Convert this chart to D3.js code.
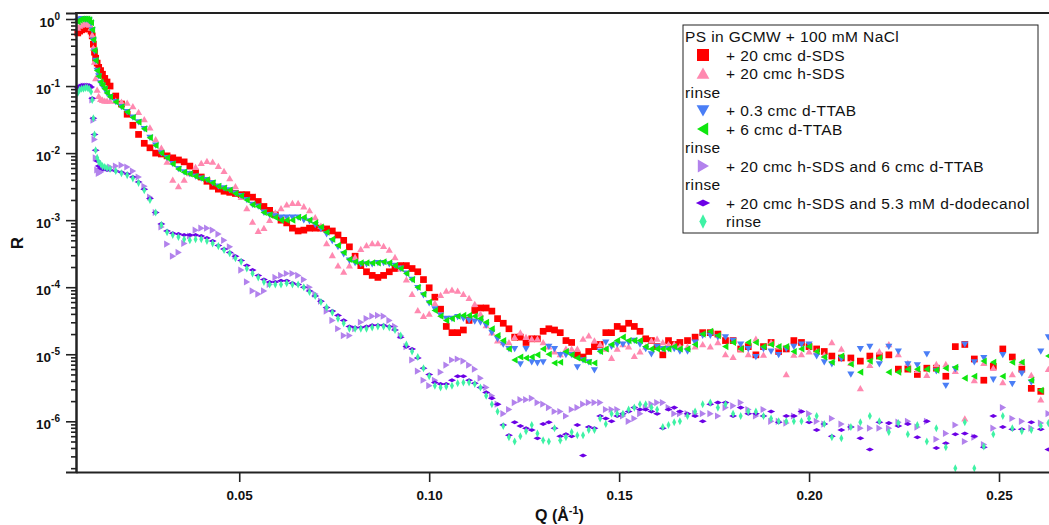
<!DOCTYPE html>
<html>
<head>
<meta charset="utf-8">
<script src="https://cdn.jsdelivr.net/npm/d3@7"></script>
<style>
  body { margin: 0; background: #fff; }
  svg { display: block; font-family: "Liberation Sans", Arial, Helvetica, sans-serif; }
</style>
</head>
<body>
<svg id="chart" width="1049" height="525"></svg>
<script>
// Q values (1/Angstrom), shared by all the reflectivity curves
const q = [
  0.0075, 0.008, 0.0085, 0.009, 0.0095, 0.010, 0.0105, 0.011, 0.0113, 0.0116, 0.0119, 0.0122, 0.0126, 0.013, 0.0135, 0.014, 0.0146, 0.0152,
  0.016, 0.0175, 0.019, 0.0205, 0.022, 0.0235, 0.025, 0.0265, 0.028, 0.0295,
  0.031, 0.0325, 0.034, 0.0355, 0.037, 0.0385, 0.040, 0.0415, 0.043, 0.0445,
  0.046, 0.0475, 0.049, 0.0505, 0.052, 0.0535, 0.055, 0.0565, 0.058, 0.0595,
  0.061, 0.0625, 0.064, 0.0655, 0.067, 0.0685, 0.070, 0.0715, 0.073, 0.0745,
  0.076, 0.0775, 0.079, 0.0805, 0.082, 0.0835, 0.085, 0.0865, 0.088, 0.0895,
  0.091, 0.0925, 0.094, 0.0955, 0.097, 0.0985, 0.100, 0.1015, 0.103, 0.1045,
  0.106, 0.1075, 0.109, 0.1105, 0.112, 0.1135, 0.115, 0.1165, 0.118, 0.1195,
  0.121, 0.1225, 0.124, 0.1255, 0.127, 0.1285, 0.130, 0.1315, 0.133, 0.1345,
  0.136, 0.1375, 0.139, 0.1405, 0.142, 0.1435, 0.145, 0.1465, 0.148, 0.1495,
  0.151, 0.1525, 0.154, 0.1555, 0.157, 0.1585, 0.160, 0.1615, 0.163, 0.1645,
  0.166,
  0.168, 0.170, 0.172, 0.174, 0.176, 0.178, 0.180, 0.182, 0.184, 0.186,
  0.188, 0.190, 0.192, 0.194, 0.196, 0.198, 0.200, 0.202, 0.204, 0.206,
  0.2085, 0.211, 0.2135, 0.216, 0.2185, 0.221, 0.2235, 0.226, 0.2285, 0.231, 0.2335, 0.236,
  0.2385, 0.241, 0.2435, 0.246, 0.2485, 0.251, 0.2535, 0.256, 0.2585, 0.261, 0.263
];

// + 20 cmc d-SDS
const rRed = [
  0.62, 0.66, 0.69, 0.71, 0.74, 0.74, 0.71, 0.66, 0.56, 0.42, 0.32, 0.26, 0.22, 0.19, 0.17, 0.15, 0.13, 0.115,
  0.10, 7.1e-2, 5.4e-2, 3.8e-2, 2.6e-2, 1.9e-2, 1.4e-2, 1.2e-2, 1.0e-2, 9.7e-3,
  9.1e-3, 8.5e-3, 7.9e-3, 7.4e-3, 6.4e-3, 5.2e-3, 4.4e-3, 3.8e-3, 3.2e-3, 2.9e-3,
  2.7e-3, 2.6e-3, 2.5e-3, 2.4e-3, 2.4e-3, 2.2e-3, 1.9e-3, 1.6e-3, 1.4e-3, 1.2e-3,
  1.0e-3, 9.1e-4, 7.6e-4, 6.9e-4, 7.1e-4, 7.6e-4, 7.6e-4, 7.6e-4, 7.4e-4, 6.9e-4,
  6.0e-4, 5.0e-4, 4.0e-4, 2.9e-4, 2.1e-4, 1.7e-4, 1.5e-4, 1.4e-4, 1.5e-4, 1.7e-4,
  1.9e-4, 2.1e-4, 2.1e-4, 1.9e-4, 1.7e-4, 1.3e-4, 9.8e-5, 7.1e-5, 4.7e-5, 2.6e-5,
  2.1e-5, 2.1e-5, 2.3e-5, 3.2e-5, 4.5e-5, 4.9e-5, 4.9e-5, 4.4e-5, 3.4e-5, 2.9e-5,
  2.4e-5, 1.8e-5, 1.8e-5, 1.5e-5, 1.7e-5, 1.7e-5, 2.2e-5, 2.4e-5, 2.3e-5, 2.1e-5,
  1.6e-5, 1.5e-5, 9.8e-6, 9.1e-6, 1.1e-5, 1.3e-5, 1.4e-5, 2.1e-5, 2.1e-5, 2.6e-5,
  2.4e-5, 2.9e-5, 2.6e-5, 2.2e-5, 1.7e-5, 1.6e-5, 1.3e-5, 9.8e-6, 1.6e-5, 1.4e-5,
  1.5e-5,
  1.6e-5, 1.8e-5, 2.1e-5, 2.1e-5, 2.0e-5, 1.6e-5, 1.6e-5, 1.2e-5, 1.3e-5, 9.8e-6,
  1.3e-5, 1.5e-5, 1.1e-5, 1.2e-5, 1.6e-5, 1.5e-5, 1.3e-5, 1.2e-5, 1.1e-5, 9.4e-6,
  8.8e-6, 8.8e-6, 7.9e-6, 9.4e-6, 9.4e-6, 9.8e-6, 6.0e-6, 6.0e-6, 5.0e-6, 6.2e-6, 6.2e-6, 4.7e-6,
  1.3e-5, 1.4e-5, 8.5e-6, 4.1e-6, 6.6e-6, 1.2e-5, 9.1e-6, 6.0e-6, 3.1e-6, 2.8e-6, null
];

// + 20 cmc h-SDS
const rPink = [
  0.74, 0.79, 0.82, 0.85, 0.85, 0.85, 0.82, 0.74, 0.58, 0.37, 0.23, 0.13, 0.088, 0.071, 0.064, 0.062, 0.060, 0.060,
  6.0e-2, 6.0e-2, 5.8e-2, 5.6e-2, 5.0e-2, 4.1e-2, 3.2e-2, 2.4e-2, 1.6e-2, 1.2e-2,
  7.4e-3, 4.0e-3, 3.2e-3, 4.0e-3, 5.0e-3, 6.2e-3, 7.1e-3, 7.6e-3, 7.4e-3, 6.4e-3,
  5.4e-3, 4.2e-3, 3.2e-3, 2.2e-3, 1.5e-3, 9.4e-4, 6.9e-4, 7.6e-4, 1.0e-3, 1.3e-3,
  1.5e-3, 1.7e-3, 1.8e-3, 1.8e-3, 1.6e-3, 1.4e-3, 1.1e-3, 8.2e-4, 4.5e-4, 3.0e-4,
  2.1e-4, 1.7e-4, 2.1e-4, 2.8e-4, 3.7e-4, 4.2e-4, 4.5e-4, 4.5e-4, 4.1e-4, 3.6e-4,
  2.8e-4, 1.9e-4, 1.3e-4, 7.9e-5, 4.5e-5, 3.7e-5, 4.0e-5, 5.8e-5, 7.6e-5, 8.8e-5,
  9.1e-5, 8.8e-5, 7.9e-5, 6.9e-5, 5.6e-5, 4.0e-5, 2.7e-5, 2.1e-5, 1.6e-5, 1.5e-5,
  1.5e-5, 1.8e-5, 2.1e-5, 1.8e-5, 1.7e-5, 1.7e-5, 1.5e-5, 1.3e-5, 1.1e-5, 1.0e-5,
  1.2e-5, 1.2e-5, 1.2e-5, 1.7e-5, 1.9e-5, 1.6e-5, 1.4e-5, 1.2e-5, 8.8e-6, 1.2e-5,
  1.4e-5, 1.3e-5, 9.4e-6, 1.1e-5, 1.3e-5, 1.6e-5, 1.7e-5, 1.5e-5, 1.4e-5, 1.4e-5,
  1.3e-5,
  1.3e-5, 1.3e-5, 1.4e-5, 1.3e-5, 1.5e-5, 1.0e-5, 9.1e-6, 1.2e-5, 1.0e-5, 1.7e-5,
  9.8e-6, 1.5e-5, 1.3e-5, 5.0e-6, 9.8e-6, 1.0e-5, 1.1e-5, 1.1e-5, 9.8e-6, 1.5e-5,
  1.2e-5, 7.4e-6, 3.1e-6, 6.9e-6, 1.1e-5, 1.4e-5, 1.0e-5, 7.4e-6, 5.8e-6, 4.9e-6, 7.1e-6, 7.1e-6,
  5.6e-6, 1.1e-6, 4.1e-6, 7.4e-6, 6.2e-6, 3.8e-6, 5.0e-6, 7.6e-6, 4.9e-6, 2.1e-6, 6.0e-6
];

// + 0.3 cmc d-TTAB
const rBlue = [
  0.93, 0.98, 1.0, 1.0, 0.98, 0.98, 0.95, 0.86, 0.68, 0.48, 0.33, 0.24, 0.17, 0.14, 0.11, 0.10, 0.090, 0.078,
  6.9e-2, 5.8e-2, 4.9e-2, 4.1e-2, 3.4e-2, 2.9e-2, 2.3e-2, 1.7e-2, 1.3e-2, 1.0e-2,
  8.5e-3, 6.9e-3, 5.8e-3, 5.2e-3, 4.9e-3, 4.5e-3, 4.2e-3, 4.0e-3, 3.6e-3, 3.2e-3,
  3.0e-3, 2.8e-3, 2.5e-3, 2.3e-3, 2.0e-3, 1.7e-3, 1.6e-3, 1.3e-3, 1.2e-3, 1.15e-3,
  1.1e-3, 1.1e-3, 1.1e-3, 1.1e-3, 1.0e-3, 9.7e-4, 8.5e-4, 7.4e-4, 6.2e-4, 4.9e-4,
  4.0e-4, 3.1e-4, 2.5e-4, 2.3e-4, 2.2e-4, 2.2e-4, 2.2e-4, 2.3e-4, 2.3e-4, 2.2e-4,
  2.1e-4, 1.9e-4, 1.6e-4, 1.3e-4, 9.8e-5, 7.6e-5, 5.8e-5, 4.7e-5, 3.8e-5, 3.4e-5,
  3.4e-5, 3.6e-5, 3.4e-5, 3.2e-5, 3.1e-5, 3.0e-5, 2.7e-5, 2.1e-5, 1.7e-5, 1.4e-5,
  1.2e-5, 1.2e-5, 7.1e-6, 1.2e-5, 7.6e-6, 7.4e-6, 7.6e-6, 1.3e-5, 1.2e-5, 9.8e-6,
  9.8e-6, 9.8e-6, 6.4e-6, 8.2e-6, 7.6e-6, 5.8e-6, 1.1e-5, 1.5e-5, 1.3e-5, 1.4e-5,
  1.4e-5, 1.5e-5, 1.6e-5, 1.4e-5, 1.2e-5, 1.0e-5, 1.3e-5, 1.2e-5, 1.2e-5, 1.2e-5,
  1.1e-5,
  1.1e-5, 1.5e-5, 1.9e-5, 1.9e-5, 1.8e-5, 1.8e-5, 1.6e-5, 1.4e-5, 1.2e-5, 9.1e-6,
  1.2e-5, 1.1e-5, 9.8e-6, 1.2e-5, 1.3e-5, 1.4e-5, 1.4e-5, 9.4e-6, 7.6e-6, 7.1e-6,
  8.5e-6, 5.0e-6, 1.2e-5, 1.3e-5, 7.1e-6, 1.3e-5, 1.1e-5, 7.1e-6, 6.9e-6, 1.0e-5, 5.6e-6, 3.4e-6,
  6.0e-6, 1.4e-5, 7.6e-6, 8.8e-6, 4.2e-6, 9.8e-6, 3.6e-6, 5.2e-6, 3.8e-6, 1.1e-5, 1.8e-5
];

// + 6 cmc d-TTAB
const rGreen = [
  0.91, 0.97, 1.0, 1.0, 1.0, 1.0, 0.97, 0.88, 0.69, 0.49, 0.34, 0.24, 0.17, 0.14, 0.115, 0.103, 0.091, 0.079,
  6.9e-2, 5.8e-2, 4.9e-2, 4.1e-2, 3.4e-2, 2.9e-2, 2.3e-2, 1.7e-2, 1.3e-2, 1.0e-2,
  8.5e-3, 6.9e-3, 5.8e-3, 5.2e-3, 4.9e-3, 4.5e-3, 4.2e-3, 4.0e-3, 3.6e-3, 3.2e-3,
  3.0e-3, 2.8e-3, 2.5e-3, 2.3e-3, 2.0e-3, 1.7e-3, 1.6e-3, 1.3e-3, 1.2e-3, 1.1e-3,
  1.0e-3, 1.0e-3, 1.0e-3, 1.1e-3, 1.1e-3, 1.0e-3, 9.1e-4, 7.9e-4, 6.6e-4, 5.2e-4,
  4.2e-4, 3.3e-4, 2.6e-4, 2.4e-4, 2.3e-4, 2.3e-4, 2.3e-4, 2.3e-4, 2.4e-4, 2.3e-4,
  2.1e-4, 1.9e-4, 1.6e-4, 1.3e-4, 1.0e-4, 7.9e-5, 6.0e-5, 4.5e-5, 3.7e-5, 3.2e-5,
  3.4e-5, 3.7e-5, 3.8e-5, 3.8e-5, 3.7e-5, 3.4e-5, 3.0e-5, 2.4e-5, 1.9e-5, 1.6e-5,
  1.2e-5, 8.2e-6, 9.1e-6, 8.8e-6, 9.1e-6, 9.8e-6, 1.2e-5, 1.0e-5, 7.4e-6, 7.6e-6,
  1.1e-5, 9.8e-6, 8.8e-6, 8.2e-6, 7.6e-6, 7.4e-6, 1.1e-5, 1.2e-5, 1.4e-5, 1.6e-5,
  1.8e-5, 1.6e-5, 1.6e-5, 1.6e-5, 1.3e-5, 1.2e-5, 1.2e-5, 1.2e-5, 1.2e-5, 1.3e-5,
  1.2e-5,
  1.2e-5, 1.4e-5, 2.0e-5, 2.2e-5, 1.9e-5, 1.3e-5, 1.5e-5, 1.2e-5, 1.5e-5, 1.5e-5,
  1.3e-5, 1.4e-5, 1.3e-5, 1.3e-5, 1.1e-5, 1.2e-5, 1.3e-5, 1.1e-5, 9.1e-6, 7.6e-6,
  9.4e-6, 7.1e-6, 5.4e-6, 7.9e-6, 8.8e-6, 5.4e-6, 5.4e-6, 6.0e-6, 6.0e-6, 6.0e-6, 5.8e-6, 6.2e-6,
  6.4e-6, 4.4e-6, 4.7e-6, 7.9e-6, 7.6e-6, 4.7e-6, 7.6e-6, 7.6e-6, 4.1e-6, 2.9e-6, 9.4e-6
];

// + 20 cmc h-SDS and 6 cmc d-TTAB
const rLavender = [
  0.088, 0.094, 0.097, 0.10, 0.10, 0.10, 0.10, 0.094, 0.062, 0.031, 0.016, 8.5e-3, 5.6e-3, 5.0e-3, 5.2e-3, 5.6e-3, 5.8e-3, 6.0e-3,
  6.2e-3, 6.4e-3, 6.6e-3, 6.2e-3, 5.4e-3, 4.4e-3, 3.2e-3, 2.2e-3, 1.3e-3, 7.9e-4,
  4.4e-4, 2.9e-4, 3.3e-4, 4.5e-4, 5.8e-4, 7.1e-4, 7.6e-4, 7.6e-4, 7.1e-4, 6.2e-4,
  5.0e-4, 4.0e-4, 2.9e-4, 1.8e-4, 1.2e-4, 8.8e-5, 7.9e-5, 8.8e-5, 1.1e-4, 1.4e-4,
  1.5e-4, 1.6e-4, 1.6e-4, 1.5e-4, 1.3e-4, 1.0e-4, 7.9e-5, 6.2e-5, 4.4e-5, 3.2e-5,
  2.4e-5, 1.9e-5, 1.9e-5, 2.4e-5, 3.0e-5, 3.4e-5, 3.7e-5, 3.8e-5, 3.7e-5, 3.2e-5,
  2.6e-5, 1.9e-5, 1.3e-5, 8.2e-6, 5.6e-6, 4.1e-6, 3.4e-6, 4.1e-6, 5.4e-6, 6.9e-6,
  8.2e-6, 8.5e-6, 7.9e-6, 6.9e-6, 6.0e-6, 4.4e-6, 3.2e-6, 2.4e-6, 1.8e-6, 1.3e-6,
  1.5e-6, 1.9e-6, 2.1e-6, 2.1e-6, 2.2e-6, 1.9e-6, 1.8e-6, 1.6e-6, 1.4e-6, 1.4e-6,
  1.2e-6, 1.5e-6, 1.6e-6, 1.8e-6, 1.9e-6, 1.9e-6, 1.9e-6, 1.5e-6, 1.5e-6, 1.5e-6,
  1.2e-6, 1.0e-6, 1.1e-6, 1.3e-6, 1.6e-6, 1.8e-6, 1.9e-6, 1.9e-6, 1.6e-6, 1.3e-6,
  1.3e-6,
  1.3e-6, 1.3e-6, 1.3e-6, 1.3e-6, 1.2e-6, 1.6e-6, 1.7e-6, 1.9e-6, 1.5e-6, 1.2e-6,
  1.5e-6, 1.0e-6, 1.0e-6, 9.4e-7, 1.2e-6, 1.4e-6, 1.3e-6, 1.0e-6, 9.1e-7, 1.1e-6,
  9.1e-7, 8.2e-7, 7.9e-7, 7.9e-7, 7.9e-7, 7.9e-7, 9.7e-7, 1.0e-6, 8.2e-7, 1.0e-6, 5.4e-7, 6.6e-7,
  8.8e-7, 5.0e-7, 5.8e-7, 4.5e-7, 7.9e-7, 1.6e-6, 1.1e-6, 1.0e-6, 7.9e-7, 9.4e-7, 1.3e-6
];

// + 20 cmc h-SDS and 5.3 mM d-dodecanol
const rPurple = [
  0.094, 0.10, 0.103, 0.103, 0.103, 0.103, 0.103, 0.097, 0.066, 0.033, 0.019, 0.011, 7.6e-3, 6.4e-3, 6.0e-3, 5.8e-3, 5.8e-3, 5.6e-3,
  5.6e-3, 5.4e-3, 5.2e-3, 4.9e-3, 4.4e-3, 3.7e-3, 2.9e-3, 2.1e-3, 1.3e-3, 8.8e-4,
  6.9e-4, 6.4e-4, 6.2e-4, 6.0e-4, 6.0e-4, 6.0e-4, 5.8e-4, 5.4e-4, 4.9e-4, 4.2e-4,
  3.7e-4, 3.3e-4, 2.9e-4, 2.5e-4, 2.1e-4, 1.8e-4, 1.5e-4, 1.3e-4, 1.2e-4, 1.2e-4,
  1.25e-4, 1.25e-4, 1.15e-4, 1.1e-4, 1.0e-4, 8.8e-5, 7.4e-5, 6.2e-5, 5.0e-5, 4.4e-5,
  3.8e-5, 3.2e-5, 2.6e-5, 2.5e-5, 2.5e-5, 2.6e-5, 2.7e-5, 2.7e-5, 2.7e-5, 2.6e-5,
  2.3e-5, 1.8e-5, 1.3e-5, 1.2e-5, 8.8e-6, 6.2e-6, 5.0e-6, 3.8e-6, 3.6e-6, 3.6e-6,
  4.1e-6, 4.7e-6, 4.7e-6, 4.1e-6, 3.7e-6, 3.2e-6, 2.7e-6, 2.2e-6, 1.8e-6, 8.8e-7,
  6.2e-7, 9.7e-7, 8.5e-7, 7.9e-7, 7.4e-7, 5.6e-7, 9.1e-7, 9.7e-7, 7.9e-7, 6.0e-7,
  6.4e-7, 6.0e-7, 8.8e-7, 3.1e-7, 8.2e-7, 7.9e-7, 1.2e-6, 1.1e-6, 1.0e-6, 1.2e-6,
  1.3e-6, 1.4e-6, 1.6e-6, 1.5e-6, 1.5e-6, 1.4e-6, 1.3e-6, 7.9e-7, 1.5e-6, 1.6e-6,
  1.4e-6,
  1.3e-6, 1.2e-6, 1.0e-6, 1.8e-6, 1.9e-6, 1.9e-6, 1.2e-6, 1.6e-6, 1.3e-6, 1.3e-6,
  1.2e-6, 1.4e-6, 9.7e-7, 1.2e-6, 1.2e-6, 1.4e-6, 9.7e-7, 7.4e-7, 9.1e-7, 6.0e-7,
  7.4e-7, 8.2e-7, 5.6e-7, 3.8e-7, 9.7e-7, 9.4e-7, 8.5e-7, 9.1e-7, 5.8e-7, 1.0e-6, 4.0e-7, 4.7e-7,
  6.4e-7, 6.6e-7, 6.0e-7, 4.1e-7, 1.2e-6, 8.2e-7, 7.6e-7, 7.6e-7, 9.7e-7, 7.6e-7, 3.8e-7
];

// rinse (last)
const rRinse = [
  0.079, 0.088, 0.091, 0.091, 0.094, 0.094, 0.091, 0.082, 0.062, 0.033, 0.019, 0.011, 8.5e-3, 7.4e-3, 6.9e-3, 6.4e-3, 6.2e-3, 6.0e-3,
  5.8e-3, 5.4e-3, 5.0e-3, 4.7e-3, 4.2e-3, 3.6e-3, 2.8e-3, 2.0e-3, 1.3e-3, 8.5e-4,
  6.6e-4, 6.0e-4, 5.6e-4, 5.2e-4, 5.0e-4, 5.2e-4, 5.2e-4, 4.9e-4, 4.5e-4, 4.1e-4,
  3.6e-4, 3.2e-4, 2.7e-4, 2.4e-4, 1.9e-4, 1.6e-4, 1.4e-4, 1.2e-4, 1.1e-4, 1.1e-4,
  1.1e-4, 1.15e-4, 1.1e-4, 1.1e-4, 1.0e-4, 8.5e-5, 7.4e-5, 6.0e-5, 5.0e-5, 4.2e-5,
  3.4e-5, 2.9e-5, 2.4e-5, 2.4e-5, 2.4e-5, 2.4e-5, 2.5e-5, 2.6e-5, 2.6e-5, 2.5e-5,
  2.3e-5, 1.9e-5, 1.4e-5, 1.1e-5, 9.1e-6, 6.2e-6, 4.7e-6, 3.4e-6, 3.2e-6, 3.3e-6,
  3.4e-6, 3.7e-6, 3.8e-6, 3.8e-6, 3.6e-6, 3.2e-6, 2.4e-6, 1.8e-6, 1.4e-6, 8.5e-7,
  5.8e-7, 5.0e-7, 6.0e-7, 7.1e-7, 8.8e-7, 6.6e-7, 5.2e-7, 5.0e-7, 7.9e-7, 5.2e-7,
  5.8e-7, 6.9e-7, 6.2e-7, 6.2e-7, 7.4e-7, 7.4e-7, 1.1e-6, 9.1e-7, 1.3e-6, 1.3e-6,
  1.3e-6, 1.5e-6, 1.6e-6, 1.8e-6, 1.8e-6, 1.6e-6, 1.5e-6, 8.2e-7, 8.8e-7, 9.7e-7,
  1.0e-6,
  1.2e-6, 1.4e-6, 1.8e-6, 1.9e-6, 1.6e-6, 1.8e-6, 1.3e-6, 1.2e-6, 1.4e-6, 1.4e-6,
  1.2e-6, 1.1e-6, 1.0e-6, 1.0e-6, 1.0e-6, 1.0e-6, 1.1e-6, 1.2e-6, 9.1e-7, 5.8e-7,
  5.6e-7, 8.2e-7, 9.7e-7, 1.2e-6, 1.0e-6, 6.9e-7, 9.4e-7, 6.4e-7, 8.8e-7, 5.0e-7, 7.9e-7, 4.1e-7,
  2.0e-7, 9.7e-7, 2.0e-7, 4.2e-7, 6.4e-7, 1.2e-6, 7.9e-7, 7.1e-7, 7.4e-7, 8.5e-7, 9.4e-7
];

const seriesNames = [
  '+ 20 cmc d-SDS', '+ 20 cmc h-SDS', '+ 0.3 cmc d-TTAB', '+ 6 cmc d-TTAB',
  '+ 20 cmc h-SDS and 6 cmc d-TTAB', '+ 20 cmc h-SDS and 5.3 mM d-dodecanol', 'rinse'
];
const legendTitle = 'PS in GCMW + 100 mM NaCl';
// legend rows: a number points at a series, a string is a plain text line
const legendRows = [0, 1, 'rinse', 2, 3, 'rinse', 4, 'rinse', 5, 6];

const qTicks = [0.05, 0.10, 0.15, 0.20, 0.25];
const rDecades = [1, 1e-1, 1e-2, 1e-3, 1e-4, 1e-5, 1e-6];
const decadeExp = [0, -1, -2, -3, -4, -5, -6];

const series = [
  {values: rRed, color: '#ff0000', shape: 'square'},
  {values: rPink, color: '#ff89b0', shape: 'up'},
  {values: rBlue, color: '#4a7ef6', shape: 'down'},
  {values: rGreen, color: '#0fe60f', shape: 'left'},
  {values: rLavender, color: '#b282ec', shape: 'right'},
  {values: rPurple, color: '#6c00e6', shape: 'hdiamond'},
  {values: rRinse, color: '#3ff2a5', shape: 'vdiamond'}
];

// marker outlines, s is a scale factor
function markerPath(shape, s) {
  switch (shape) {
    case 'square': return `M${-3*s},${-3*s}h${6*s}v${6*s}h${-6*s}Z`;
    case 'up': return `M0,${-3*s}L${3.2*s},${2.6*s}L${-3.2*s},${2.6*s}Z`;
    case 'down': return `M0,${3*s}L${3.2*s},${-2.6*s}L${-3.2*s},${-2.6*s}Z`;
    case 'left': return `M${-3*s},0L${2.6*s},${-3.2*s}L${2.6*s},${3.2*s}Z`;
    case 'right': return `M${3*s},0L${-2.6*s},${-3.2*s}L${-2.6*s},${3.2*s}Z`;
    case 'hdiamond': return `M${-3.6*s},0L0,${-1.8*s}L${3.6*s},0L0,${1.8*s}Z`;
    case 'vdiamond': return `M0,${-3.6*s}L${1.8*s},0L0,${3.6*s}L${-1.8*s},0Z`;
  }
}

const svg = d3.select('#chart');
const plotLeft = 76, plotRight = 1049, plotTop = 13, plotBottom = 472;

const x = d3.scaleLinear().domain([0.00703, 0.26316]).range([plotLeft, plotRight]);
const y = d3.scaleLog().domain([1.754e-7, 1.229]).range([plotBottom, plotTop]);

// data markers, drawn in legend order so later traces sit on top
const plot = svg.append('g').attr('class', 'data');
series.forEach(s => {
  const n = Math.min(q.length, s.values.length);
  const pts = [];
  for (let i = 0; i < n; i++) {
    if (s.values[i] != null) pts.push([q[i], s.values[i]]);
  }
  plot.append('g')
    .selectAll('path')
    .data(pts)
    .enter()
    .append('path')
    .attr('d', markerPath(s.shape, 1.12))
    .attr('transform', d => `translate(${x(d[0])},${y(d[1])})`)
    .attr('fill', s.color);
});

// y axis (log): major ticks at decades, minor ticks at 2..9
const minorR = [];
for (let e = -7; e <= 0; e++) {
  for (let m = 2; m <= 9; m++) {
    const v = m * Math.pow(10, e);
    if (v >= y.domain()[0] && v <= y.domain()[1]) minorR.push(v);
  }
}
const yMajor = svg.append('g').attr('transform', `translate(${plotLeft},0)`)
  .call(d3.axisLeft(y).tickValues(rDecades).tickSize(10).tickFormat(''));
const yMinor = svg.append('g').attr('transform', `translate(${plotLeft},0)`)
  .call(d3.axisLeft(y).tickValues(minorR).tickSize(5).tickSizeOuter(0).tickFormat(''));
[yMajor, yMinor].forEach(g => {
  g.selectAll('line').attr('stroke', '#222').attr('stroke-width', 1.6);
  g.select('.domain').attr('stroke', '#222').attr('stroke-width', 2);
});

const yLabels = svg.append('g')
  .attr('font-weight', 'bold')
  .attr('fill', '#111');
rDecades.forEach((v, i) => {
  const t = yLabels.append('text')
    .attr('x', 60)
    .attr('y', y(v) + 8)
    .attr('text-anchor', 'end');
  t.append('tspan').attr('font-size', 13.5).text('10');
  t.append('tspan').attr('font-size', 10).attr('dy', -7).text(decadeExp[i]);
});

// x axis
const xAxis = svg.append('g').attr('transform', `translate(0,${plotBottom})`)
  .call(d3.axisBottom(x).tickValues(qTicks).tickSize(10).tickSizeOuter(0).tickPadding(8)
    .tickFormat(d3.format('.2f')));
xAxis.selectAll('line').attr('stroke', '#222').attr('stroke-width', 1.6);
xAxis.select('.domain').attr('stroke', '#222').attr('stroke-width', 2);
xAxis.selectAll('text')
  .attr('font-family', '"Liberation Sans", Arial, sans-serif')
  .attr('font-size', 13.5)
  .attr('font-weight', 'bold')
  .attr('fill', '#111');

// top frame line
svg.append('line')
  .attr('x1', plotLeft - 1).attr('x2', plotRight)
  .attr('y1', plotTop).attr('y2', plotTop)
  .attr('stroke', '#222').attr('stroke-width', 2);

// axis titles
const xTitle = svg.append('text')
  .attr('x', 535).attr('y', 521)
  .attr('font-size', 16).attr('font-weight', 'bold').attr('fill', '#111');
xTitle.append('tspan').text('Q (Å');
xTitle.append('tspan').attr('font-size', 11).attr('dy', -7).text('-1');
xTitle.append('tspan').attr('dy', 7).text(')');

svg.append('text')
  .attr('transform', 'translate(23,243) rotate(-90)')
  .attr('text-anchor', 'middle')
  .attr('font-size', 17).attr('font-weight', 'bold').attr('fill', '#111')
  .text('R');

// legend
const legend = svg.append('g').attr('class', 'legend');
legend.append('rect')
  .attr('x', 683).attr('y', 25).attr('width', 355).attr('height', 208)
  .attr('fill', '#fff').attr('stroke', '#222').attr('stroke-width', 1);
const rowY = i => 36.5 + 18.5 * i;
const legendText = (xx, yy, str) => legend.append('text')
  .attr('x', xx).attr('y', yy + 5.5)
  .attr('font-size', 15.5).attr('letter-spacing', 0.4).attr('fill', '#111')
  .text(str);
legendText(685, rowY(0), legendTitle);
legendRows.forEach((row, k) => {
  const yy = rowY(k + 1);
  if (typeof row === 'string') {
    legendText(685, yy, row);
  } else {
    const s = series[row];
    legend.append('path')
      .attr('d', markerPath(s.shape, 2))
      .attr('transform', `translate(703,${yy})`)
      .attr('fill', s.color);
    legendText(726, yy, seriesNames[row]);
  }
});
</script>
</body>
</html>
